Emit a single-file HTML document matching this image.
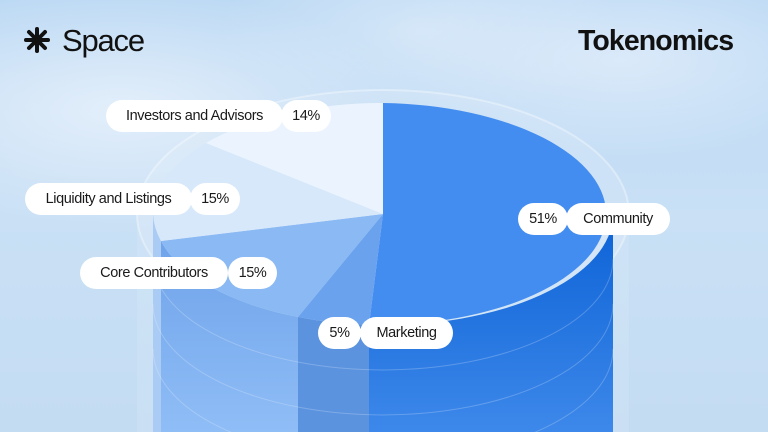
<!DOCTYPE html>
<html><head><meta charset="utf-8"><style>
html,body{margin:0;padding:0;width:768px;height:432px;overflow:hidden}
body{position:relative;font-family:"Liberation Sans",sans-serif;
background:radial-gradient(ellipse 300px 120px at 120px 110px,rgba(235,243,252,.8),transparent),
radial-gradient(ellipse 260px 100px at 620px 60px,rgba(230,240,252,.7),transparent),
radial-gradient(ellipse 200px 90px at 420px 30px,rgba(225,238,250,.6),transparent),
linear-gradient(180deg,#bcd9f4 0%,#c9e0f5 50%,#c4dcf2 100%);}
.pill{position:absolute;background:#fff;border-radius:17px;height:32px;line-height:32px;font-size:14.5px;color:#1a1a1a;text-align:center;letter-spacing:-0.4px;white-space:nowrap}
.h{position:absolute;color:#111;white-space:nowrap;line-height:1}
</style></head><body>
<svg width="768" height="432" style="position:absolute;left:0;top:0">
<defs>
<linearGradient id="cs" x1="0" y1="0" x2="0" y2="1"><stop offset="0" stop-color="#0c62d6"/><stop offset="1" stop-color="#3d88ea"/></linearGradient>
<linearGradient id="ks" x1="0" y1="0" x2="0" y2="1"><stop offset="0" stop-color="#6fa3ea"/><stop offset="1" stop-color="#8fbdf6"/></linearGradient>
</defs>
<ellipse cx="383" cy="214" rx="246" ry="124" fill="rgba(255,255,255,0.12)" stroke="rgba(255,255,255,0.35)" stroke-width="2"/>
<rect x="137" y="214" width="492" height="218" fill="rgba(255,255,255,0.1)"/>
<path d="M613,214 A230,111 0 0,1 369,325 L369,432 L613,432 Z" fill="url(#cs)"/>
<path d="M369,325 A230,111 0 0,1 298,317 L298,432 L369,432 Z" fill="#5b93df"/>
<path d="M298,317 A230,111 0 0,1 161,241 L161,432 L298,432 Z" fill="url(#ks)"/>
<path d="M161,241 A230,111 0 0,1 153,214 L153,432 L161,432 Z" fill="#a9cbf4"/>
<g fill="none" stroke="rgba(255,255,255,0.22)" stroke-width="1">
<path d="M153,259 A230,111 0 0,0 613,259"/>
<path d="M153,304 A230,111 0 0,0 613,304"/>
<path d="M153,349 A230,111 0 0,0 613,349"/>
</g>
<path d="M383,214 L383,103 A230,111 0 0,1 369,325 Z" fill="#438df0"/>
<path d="M383,214 L369,325 A230,111 0 0,1 298,317 Z" fill="#6aa2ee"/>
<path d="M383,214 L298,317 A230,111 0 0,1 161,241 Z" fill="#8ab9f3"/>
<path d="M383,214 L161,241 A230,111 0 0,1 206,143 Z" fill="#d8e8fb"/>
<path d="M383,214 L206,143 A230,111 0 0,1 383,103 Z" fill="#ebf4fe"/>
<g transform="translate(25,28)" stroke="#111" stroke-width="4" stroke-linecap="round">
<line x1="12" y1="1" x2="12" y2="23"/><line x1="1" y1="12" x2="23" y2="12"/>
<line x1="4" y1="4" x2="20" y2="20"/><line x1="20" y1="4" x2="4" y2="20"/>
</g>
</svg>
<div class="h" style="left:62px;top:25px;font-size:31px;letter-spacing:-1.2px">Space</div>
<div class="h" style="left:578px;top:27px;font-size:28.5px;font-weight:bold;letter-spacing:-0.9px">Tokenomics</div>
<div class="pill" style="left:106px;top:100px;width:177px">Investors and Advisors</div>
<div class="pill" style="left:281px;top:100px;width:50px">14%</div>
<div class="pill" style="left:25px;top:183px;width:167px">Liquidity and Listings</div>
<div class="pill" style="left:190px;top:183px;width:50px">15%</div>
<div class="pill" style="left:80px;top:257px;width:148px">Core Contributors</div>
<div class="pill" style="left:228px;top:257px;width:49px">15%</div>
<div class="pill" style="left:318px;top:317px;width:43px">5%</div>
<div class="pill" style="left:360px;top:317px;width:93px">Marketing</div>
<div class="pill" style="left:518px;top:203px;width:50px">51%</div>
<div class="pill" style="left:566px;top:203px;width:104px">Community</div>
</body></html>
